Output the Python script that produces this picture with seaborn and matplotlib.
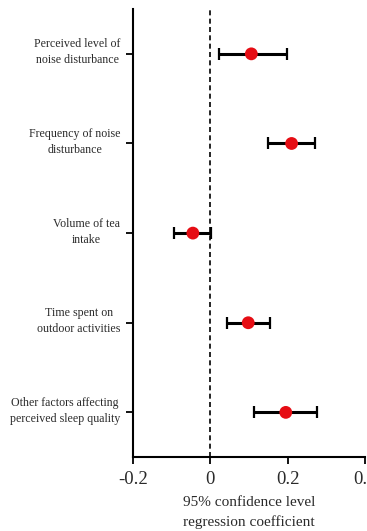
import matplotlib
matplotlib.use("Agg")
import matplotlib.pyplot as plt
import matplotlib.transforms as mtransforms
import seaborn as sns
import pandas as pd
import numpy as np

factors = [
    "Perceived level of\nnoise disturbance",
    "Frequency of noise\ndisturbance",
    "Volume of tea\nintake",
    "Time spent on\noutdoor activities",
    "Other factors affecting\nperceived sleep quality",
]
coef = [0.106, 0.210, -0.045, 0.098, 0.195]
ci_low = [0.022, 0.148, -0.095, 0.043, 0.114]
ci_high = [0.197, 0.270, 0.002, 0.155, 0.275]
xticks = [-0.2, 0, 0.2, 0.4]
xticklabels = ["-0.2", "0", "0.2", "0.4"]

sns.set_style("ticks")
plt.rcParams['font.family'] = ['Liberation Serif', 'DejaVu Serif']

df = pd.DataFrame({"factor": factors, "coef": coef, "lo": ci_low, "hi": ci_high})
df["pos"] = np.arange(len(df))

fig = plt.figure(figsize=(3.67, 5.31), dpi=100)
ax = fig.add_axes([0.362, 0.139, 0.633, 0.844])

ax.axvline(0, color="black", linestyle=(0, (3, 2)), linewidth=1.2, zorder=1)
ax.errorbar(df["coef"], df["pos"],
            xerr=[df["coef"] - df["lo"], df["hi"] - df["coef"]],
            fmt="none", ecolor="black", elinewidth=2.2, capsize=4, capthick=1.6, zorder=2)
sns.scatterplot(data=df, x="coef", y="pos", ax=ax, color="#e60d14", s=85,
                edgecolor="none", zorder=3, legend=False)

ax.set_xlim(-0.2, 0.4)
ax.set_ylim(4.5, -0.5)
ax.set_yticks(df["pos"])
ax.set_yticklabels([""] * len(df))
label_trans = mtransforms.offset_copy(ax.get_yaxis_transform(), fig=fig,
                                      x=-9, y=1, units="points")
for name, p in zip(df["factor"], df["pos"]):
    ax.text(0, p, name, transform=label_trans, ha="right", va="center",
            multialignment="center", linespacing=1.45, fontsize=8.6, color="#2a2a2a")
ax.set_xticks(xticks)
ax.set_xticklabels(xticklabels, fontsize=13.5, color="#2a2a2a")
ax.set_xlabel("95% confidence level\nregression coefficient", fontsize=11,
              color="#2a2a2a", labelpad=6, linespacing=1.55)
ax.set_ylabel("")

for s in ["top", "right"]:
    ax.spines[s].set_visible(False)
for s in ["left", "bottom"]:
    ax.spines[s].set_linewidth(1.5)
    ax.spines[s].set_color("black")
ax.tick_params(axis="both", direction="out", length=5, width=1.3, color="black")
ax.tick_params(axis="x", pad=5)

fig.savefig("out.png", dpi=100)
